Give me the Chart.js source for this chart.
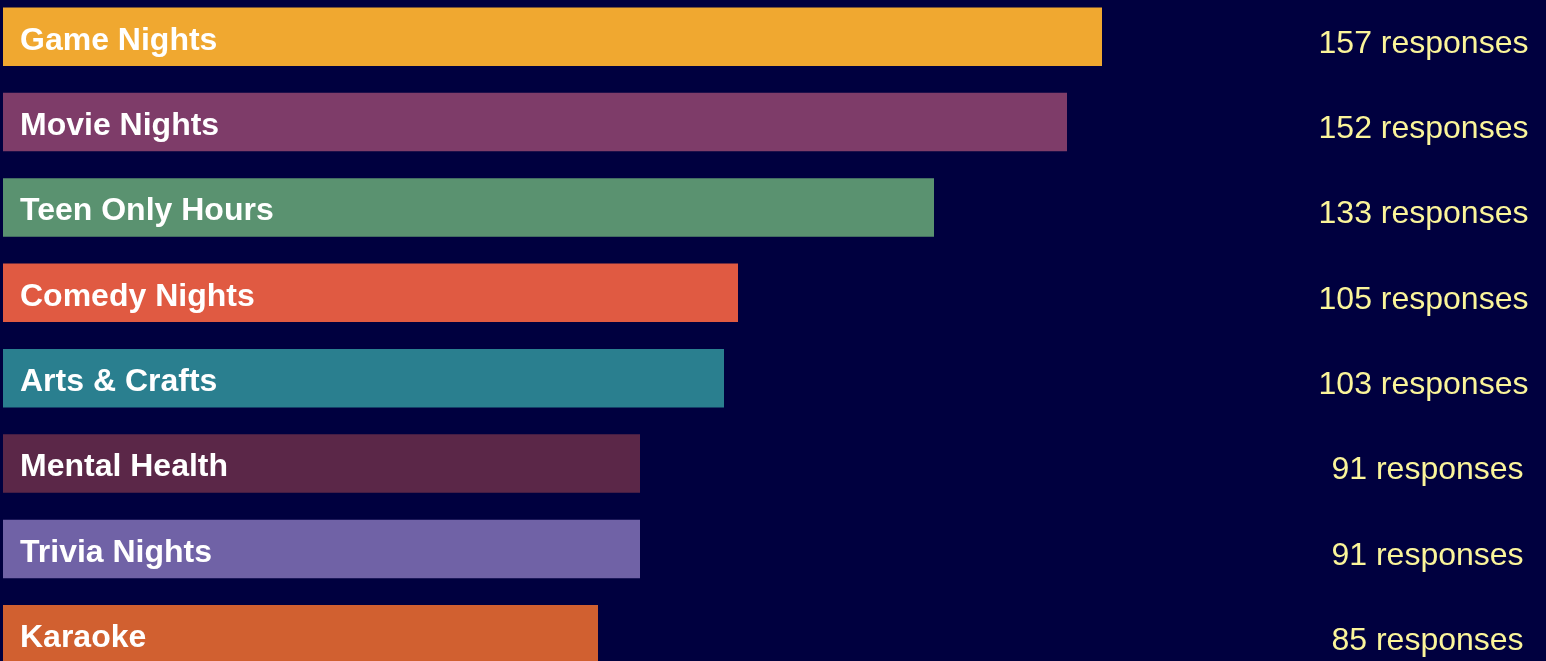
<!DOCTYPE html>
<html>
<head>
<meta charset="utf-8">
<script src="https://cdn.jsdelivr.net/npm/chart.js@4/dist/chart.umd.min.js"></script>
<style>
    html, body { margin: 0; padding: 0; background: #00003f; overflow: hidden; }
    #wrap { position: absolute; left: 0; top: -6px; width: 1546px; height: 683px; }
</style>
</head>
<body>
<div id="wrap"><canvas id="activites"></canvas></div>
<script>
// données
const categories = ["Game Nights", "Movie Nights", "Teen Only Hours", "Comedy Nights", "Arts & Crafts", "Mental Health", "Trivia Nights", "Karaoke"];
const responses = [157, 152, 133, 105, 103, 91, 91, 85];
const couleurs = ["#f0a830", "#7e3c69", "#5a9270", "#e05a42", "#2a7f8f", "#5b2748", "#7062a6", "#d16030"];

// texte dans les barres + "xxx responses" à droite
const etiquettes = {
    id: 'etiquettes',
    afterDatasetsDraw(chart) {
        const ctx = chart.ctx;
        const meta = chart.getDatasetMeta(0);
        ctx.save();
        meta.data.forEach((bar, i) => {
            ctx.textBaseline = 'middle';
            ctx.font = 'bold 32px "Liberation Sans", Arial, sans-serif';
            ctx.fillStyle = '#ffffff';
            ctx.textAlign = 'left';
            ctx.fillText(categories[i], 20, bar.y + 4);

            const txt = responses[i] + ' responses';
            ctx.font = '32px "Liberation Sans", Arial, sans-serif';
            ctx.fillStyle = '#fbf59a';
            ctx.textAlign = 'center';
            // le texte à 2 chiffres est un peu décalé à droite dans l'original
            const cx = responses[i] < 100 ? 1427.5 : 1423.5;
            ctx.fillText(txt, cx, bar.y + 7);
        });
        ctx.restore();
    }
};

new Chart(document.getElementById('activites'), {
    type: 'bar',
    data: {
        labels: categories,
        datasets: [{
            data: responses,
            backgroundColor: couleurs,
            borderWidth: 0,
            barPercentage: 0.685,
            categoryPercentage: 1,
        }]
    },
    options: {
        indexAxis: 'y',
        responsive: true,
        maintainAspectRatio: false,
        animation: false,
        layout: { padding: { left: 3, right: 3, top: 0, bottom: 0 } },
        scales: {
            x: { display: false, min: 0, max: 220 },
            y: { display: false },
        },
        plugins: {
            legend: { display: false },
            tooltip: { enabled: false },
        }
    },
    plugins: [etiquettes]
});
</script>
</body>
</html>
